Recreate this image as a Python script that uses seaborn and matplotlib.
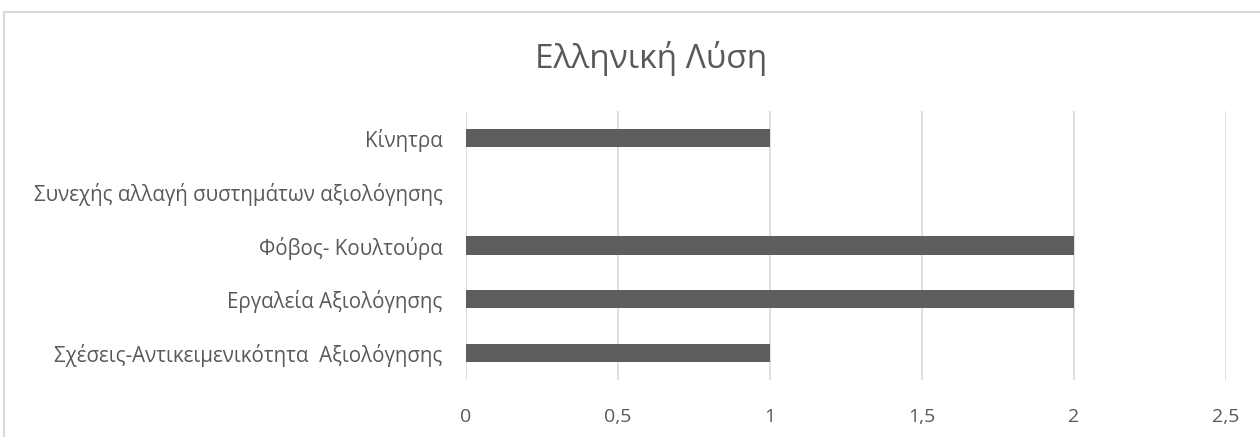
import matplotlib
matplotlib.use("Agg")
import matplotlib.pyplot as plt
from matplotlib.ticker import FuncFormatter, MultipleLocator
from matplotlib.patches import Rectangle
import seaborn as sns
import pandas as pd

# Data
categories = [
    "Κίνητρα",
    "Συνεχής αλλαγή συστημάτων αξιολόγησης",
    "Φόβος- Κουλτούρα",
    "Εργαλεία Αξιολόγησης",
    "Σχέσεις-Αντικειμενικότητα  Αξιολόγησης",
]
values = [1, 0, 2, 2, 1]
title = "Ελληνική Λύση"

sns.set_theme(style="white")
plt.rcParams["font.family"] = ["Open Sans", "DejaVu Sans"]

df = pd.DataFrame({"category": categories, "value": values})

fig = plt.figure(figsize=(12.6, 4.37), dpi=100)
ax = fig.add_axes([466 / 1260, 1 - 380 / 437, (1226 - 466) / 1260, (380 - 111) / 437])

sns.barplot(data=df, x="value", y="category", order=categories, orient="h",
            color="#5d5d5d", saturation=1, width=0.34,
            linewidth=0, ax=ax, zorder=3)

ax.set_xlim(0, 2.5)
ax.xaxis.set_major_locator(MultipleLocator(0.5))
ax.xaxis.set_major_formatter(FuncFormatter(lambda v, p: f"{v:g}".replace(".", ",")))
ax.grid(axis="x", color="#d9d9d9", linewidth=1.2, zorder=0)
ax.grid(axis="y", visible=False)
for s in ax.spines.values():
    s.set_visible(False)
ax.set_xlabel("")
ax.set_ylabel("")
ax.tick_params(axis="x", length=0, pad=20, labelsize=14, labelcolor="#595959")
ax.tick_params(axis="y", length=0, pad=17, labelsize=14.8, labelcolor="#595959")

fig.text(651 / 1260, 1 - 58 / 437, title, ha="center", va="center",
         fontsize=24, color="#595959")

# Chart frame
fig.patches.append(Rectangle((4 / 1260, -0.05), 1.1, 1 - 12 / 437 + 0.05,
                             transform=fig.transFigure, fill=False,
                             edgecolor="#d9d9d9", linewidth=1.5))

fig.savefig("out.png", dpi=100, facecolor="white")
